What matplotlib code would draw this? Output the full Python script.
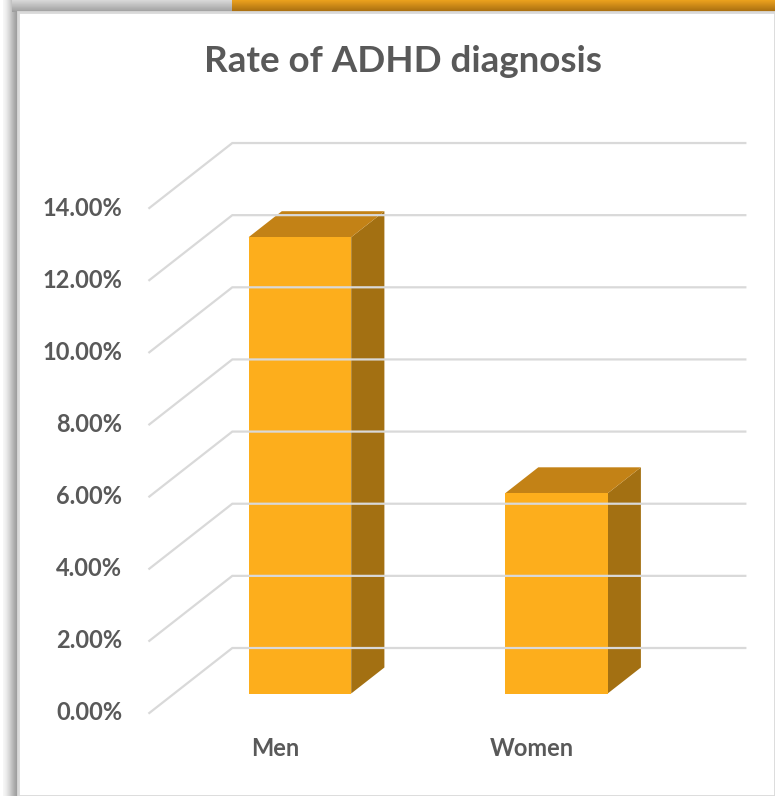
# Rate of ADHD diagnosis - pseudo 3D column chart (Excel style)

import matplotlib.pyplot as plt
import numpy as np
from matplotlib.patches import Polygon, Rectangle

categories = ['Men', 'Women']
rates = [12.65, 5.55]              # percent
ticks = [0, 2, 4, 6, 8, 10, 12, 14]

plt.rcParams['font.family'] = ['Lato', 'DejaVu Sans']

W, H = 775, 796
fig = plt.figure(figsize=(W / 100, H / 100), dpi=100)

# frame / shadow decoration, in pixel units
bg = fig.add_axes([0, 0, 1, 1])
bg.set_xlim(0, W)
bg.set_ylim(H, 0)
bg.axis('off')

grad = np.linspace(0, 1, 32)
grey_h = np.array([0.97, 0.93, 0.85, 0.75, 0.66, 0.6])
bg.imshow(np.interp(np.linspace(0, 1, 40), np.linspace(0, 1, 6), grey_h)[None, :],
          cmap='gray', vmin=0, vmax=1, extent=(3, 18, H, 0), aspect='auto')
top_g = np.interp(grad, [0, 1], [0.85, 0.62])[:, None]
bg.imshow(top_g, cmap='gray', vmin=0, vmax=1, extent=(12, 232, 12, 0), aspect='auto')
orange = np.zeros((32, 1, 3))
c1 = np.array([0xEC, 0xA2, 0x1E]) / 255
c2 = np.array([0xA6, 0x6C, 0x10]) / 255
for i, t in enumerate(grad):
    orange[i, 0] = c1 * (1 - t) + c2 * t
bg.imshow(orange, extent=(232, W, 12, 0), aspect='auto')
bg.add_patch(Rectangle((18, 12), W - 18, H - 12, facecolor='white',
                       edgecolor='#d9d9d9', lw=2))

# chart axes: x in category units, y in percent, depth handled by an offset
X0, CAT, Y0, PCT = 275, 256.5, 713, 36.07
DX, DY = 83 / CAT, 65 / PCT
ax = fig.add_axes([0, 0, 1, 1])
ax.set_xlim(-X0 / CAT, (W - X0) / CAT)
ax.set_ylim((Y0 - H) / PCT, Y0 / PCT)
ax.axis('off')
ax.patch.set_alpha(0)


def proj(x, v, d):
    return x + d * DX, v + d * DY


grid_c = '#d9d9d9'
x_left, x_right = -0.49, 1.51
for v in ticks:
    p0 = proj(x_left, v, 0)
    p1 = proj(x_left, v, 1)
    p2 = proj(x_right, v, 1)
    ax.plot([p0[0], p1[0], p2[0]], [p0[1], p1[1], p2[1]], color=grid_c, lw=1.6,
            solid_joinstyle='miter')
    ax.text(p0[0] - 27 / CAT, v, f'{v:.2f}%', ha='right', va='center',
            fontsize=17, fontweight='bold', color='#595959')

front_c, top_c, side_c = '#FDAE1C', '#C38216', '#A37012'
bw, d0, d1 = 0.2, 0.3, 0.7
for i, (cat, val) in enumerate(zip(categories, rates)):
    xl, xr = i - bw, i + bw
    front = [proj(xl, 0, d0), proj(xr, 0, d0), proj(xr, val, d0), proj(xl, val, d0)]
    side = [proj(xr, 0, d0), proj(xr, 0, d1), proj(xr, val, d1), proj(xr, val, d0)]
    top = [proj(xl, val, d0), proj(xr, val, d0), proj(xr, val, d1), proj(xl, val, d1)]
    ax.add_patch(Polygon(side, closed=True, facecolor=side_c, edgecolor='none'))
    ax.add_patch(Polygon(top, closed=True, facecolor=top_c, edgecolor='none'))
    ax.add_patch(Polygon(front, closed=True, facecolor=front_c, edgecolor='none'))
    ax.text(i, (Y0 - 748) / PCT, cat, ha='center', va='center',
            fontsize=17, fontweight='bold', color='#595959')

ax.text((403 - X0) / CAT, (Y0 - 62) / PCT, 'Rate of ADHD diagnosis', ha='center',
        va='center', fontsize=26.5, fontweight='bold', color='#595959')

fig.savefig('out.png', dpi=100)
